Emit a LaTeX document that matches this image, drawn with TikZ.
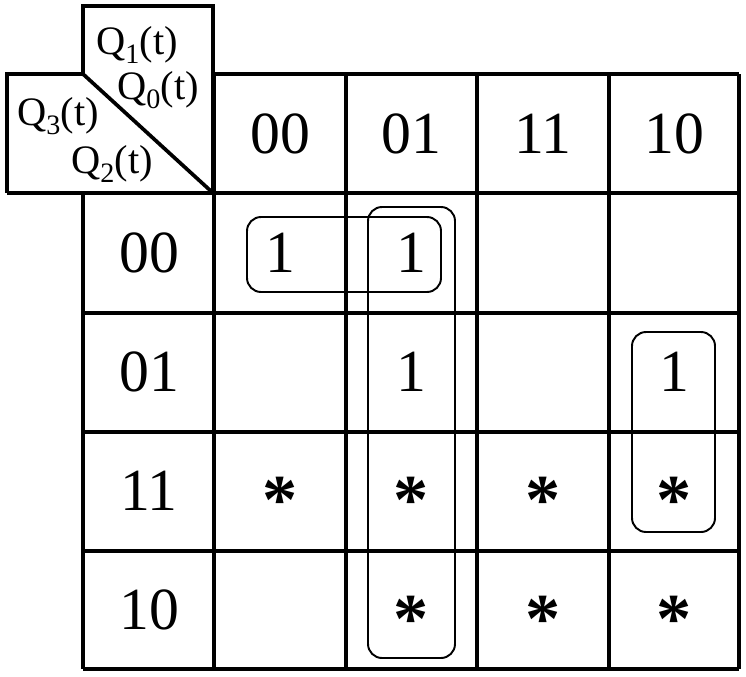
\documentclass[tikz,border=0pt]{standalone}
\usepackage{fontspec}
\setmainfont{Liberation Serif}
\usetikzlibrary{positioning}
\tikzset{
grid line/.style={line width=2.1pt},
group box/.style={line width=1.1pt, rounded corners=8pt},
cell/.style={font=\fontsize{34}{40}\selectfont, inner sep=0pt},
dc/.style={cell, font=\fontsize{40}{46}\selectfont\bfseries, yshift=-5.5pt}, % raise the * to the cell middle
var label/.style={font=\fontsize{23}{27}\selectfont, inner sep=0pt},
}
\newcommand{\lowsub}[1]{\raisebox{-0.45ex}{\fontsize{16}{18}\selectfont #1}}

\begin{document}
\begin{tikzpicture}[x=0.02cm, y=-0.02cm]
\useasboundingbox (0,0) rectangle (746,676);

% corner with the variable names
\draw[grid line] (83,74) -- (83,6) -- (213,6) -- (213,193);
\draw[grid line] (83,74) -- (7,74) -- (7,193);
\draw[grid line] (83,74) -- (213,193);
\node[var label] (q1) at (137,45) {Q\lowsub{1}(t)};
\node[var label] (q0) at (158,90) {Q\lowsub{0}(t)};
\node[var label] (q3) at (58,116) {Q\lowsub{3}(t)};
\node[var label] (q2) at (112,164) {Q\lowsub{2}(t)};

% table lines
\draw[grid line] (214,74) -- (739,74);
\draw[grid line] (7,193) -- (739,193);
\foreach \y in {313,432,551,669}
  \draw[grid line] (83,\y) -- (739,\y);
\draw[grid line] (83,193) -- (83,669);
\foreach \x in {214,346,477,609,739}
  \draw[grid line] (\x,74) -- (\x,669);

% column heads Q1 Q0
\node[cell] (c00) at (280,134) {00};
\node[cell] (c01) at (411,134) {01};
\node[cell] (c11) at (543,134) {11};
\node[cell] (c10) at (674,134) {10};

% row heads Q3 Q2
\node[cell] (r00) at (149,253) {00};
\node[cell] (r01) at (149,372) {01};
\node[cell] (r11) at (149,491) {11};
\node[cell] (r10) at (149,610) {10};

% entries
\node[cell] (m00-00) at (280,253) {1};
\node[cell] (m00-01) at (411,253) {1};
\node[cell] (m01-01) at (411,372) {1};
\node[cell] (m01-10) at (674,372) {1};
\node[dc] (m11-00) at (280,491) {*};
\node[dc] (m11-01) at (411,491) {*};
\node[dc] (m11-11) at (543,491) {*};
\node[dc] (m11-10) at (674,491) {*};
\node[dc] (m10-01) at (411,610) {*};
\node[dc] (m10-11) at (543,610) {*};
\node[dc] (m10-10) at (674,610) {*};

% groups
\draw[group box] (247,217) rectangle (441,292);
\draw[group box] (368,207) rectangle (455,658);
\draw[group box] (632,332) rectangle (715,532);

\end{tikzpicture}
\end{document}
